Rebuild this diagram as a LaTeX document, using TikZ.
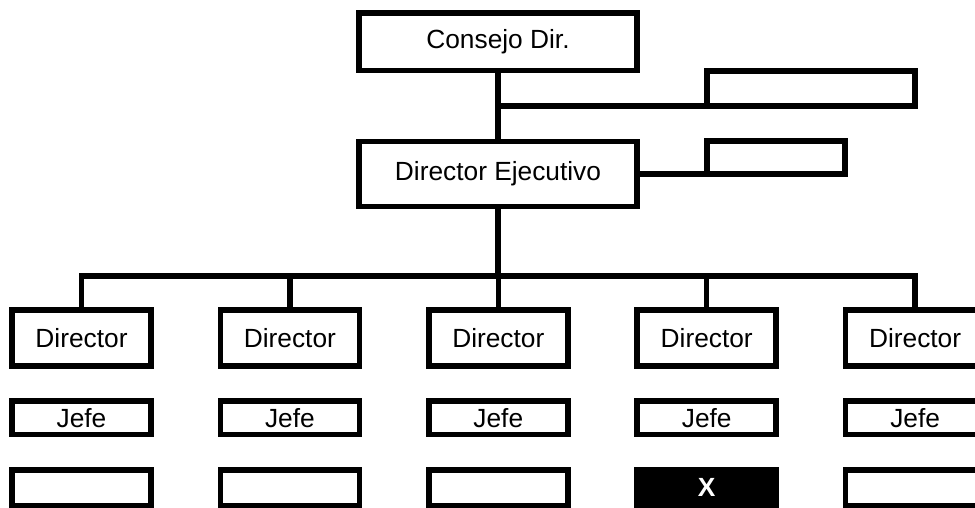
\documentclass[tikz,border=0pt]{standalone}
\usepackage{fontspec}
\setmainfont{Liberation Sans}
\begin{document}
\begin{tikzpicture}[x=1pt,y=-1pt,
  box/.style={draw=black, line width=5.5pt, outer sep=0pt, inner sep=0pt,
    fill=white, font=\fontsize{26.3}{31}\selectfont, text=black},
  wide/.style={box, minimum width=278pt},
  col/.style={box, minimum width=139pt},
  dirbox/.style={col, minimum height=56pt},
  jefebox/.style={col, minimum height=33.5pt},
  lowbox/.style={col, minimum height=35.5pt},
  darkbox/.style={lowbox, fill=black, text=white, font=\fontsize{26.3}{31}\selectfont\bfseries},
  link/.style={draw=black, line width=5.5pt, line join=miter}]
\useasboundingbox (0,0) rectangle (975,508);
% top levels
\node[wide, minimum height=57.5pt] (cd) at (498,41.75) {Consejo Dir.};
\node[box, minimum width=208pt, minimum height=35pt] (tr) at (811,88.5) {};
\node[wide, minimum height=65pt] (de) at (498,174) {Director Ejecutivo};
\node[box, minimum width=138pt, minimum height=33pt] (sm) at (776,157.5) {};
% columns
\foreach \i/\x in {1/81.5,2/289.9,3/498.3,4/706.7,5/915.1}{
  \node[dirbox] (d\i) at (\x,338) {Director};
  \node[jefebox] (j\i) at (\x,417.75) {Jefe};
}
\node[lowbox] (b1) at (81.5,487.75) {};
\node[lowbox] (b2) at (289.9,487.75) {};
\node[lowbox] (b3) at (498.3,487.75) {};
\node[darkbox] (b4) at (706.7,487.75) {X};
\node[lowbox] (b5) at (915.1,487.75) {};
\coordinate (bus) at (498,276);
% connectors
\path[link] (cd.south) -- (de.north);
\path[link] (cd.south |- tr.south west) -- (tr.south west);
\path[link] (de.east |- sm.south west) -- (sm.south west);
\path[link] (de.south) -- (bus);
\path[link] (d1.north) |- (bus) -| (d5.north);
\path[link] (d2.north) -- (d2.north |- bus);
\path[link] (d3.north) -- (d3.north |- bus);
\path[link] (d4.north) -- (d4.north |- bus);
\end{tikzpicture}
\end{document}
